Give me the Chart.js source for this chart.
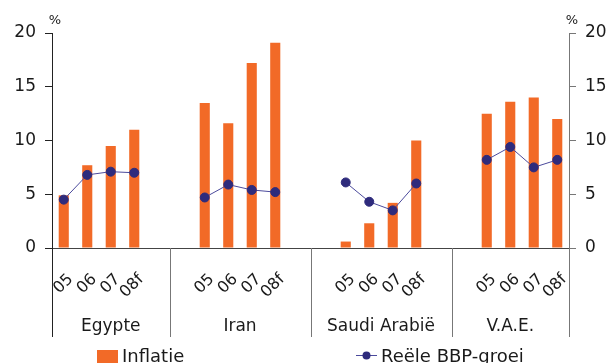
<!DOCTYPE html>
<html>
<head>
<meta charset="utf-8">
<script src="https://cdn.jsdelivr.net/npm/chart.js@4/dist/chart.umd.min.js"></script>
<style>
  html, body { margin: 0; padding: 0; background: #fff; }
  #wrap { width: 609px; height: 363px; }
</style>
</head>
<body>
<div id="wrap"><canvas id="groeiChart" width="609" height="363"></canvas></div>
<script>
// Landen en jaren
const landen = ['Egypte', 'Iran', 'Saudi Arabië', 'V.A.E.'];
const jaren = ['05', '06', '07', '08f'];

// Inflatie per land (%)
const inflatieEgypte = [4.9, 7.7, 9.5, 11.0];
const inflatieIran = [13.5, 11.6, 17.2, 19.1];
const inflatieSaudi = [0.6, 2.3, 4.2, 10.0];
const inflatieVAE = [12.5, 13.6, 14.0, 12.0];

// Reele BBP-groei per land (%)
const groeiEgypte = [4.5, 6.8, 7.1, 7.0];
const groeiIran = [4.7, 5.9, 5.4, 5.2];
const groeiSaudi = [6.1, 4.3, 3.5, 6.0];
const groeiVAE = [8.2, 9.4, 7.5, 8.2];

const yTicks = [0, 5, 10, 15, 20];

const inflatie = [inflatieEgypte, inflatieIran, inflatieSaudi, inflatieVAE];
const groei = [groeiEgypte, groeiIran, groeiSaudi, groeiVAE];

// twee lege kolommen tussen de landen
const LEEG = 2;
let labels = [], barData = [], lijnData = [], groepen = [];
landen.forEach((land, i) => {
    const start = labels.length;
    jaren.forEach((jaar, j) => {
        labels.push(jaar);
        barData.push(inflatie[i][j]);
        lijnData.push(groei[i][j]);
    });
    groepen.push({ naam: land, start: start, eind: labels.length - 1 });
    if (i < landen.length - 1) {
        for (let k = 0; k < LEEG; k++) {
            labels.push('');
            barData.push(null);
            lijnData.push(null);
        }
    }
});

const ORANJE = '#f26a27';
const BLAUW = '#2e2b7c';
const TEKST = '#1a1a1a';
const FONT = 'DejaVu Sans';
const ONDER = 337; // onderkant van de scheidingslijnen

// landnamen, scheidingslijnen, % en legenda
const extraPlugin = {
    id: 'extra',
    afterDraw(chart) {
        const ctx = chart.ctx;
        const x = chart.scales.x;
        const area = chart.chartArea;
        ctx.save();

        // grenzen van de landvakken: de assen plus het midden tussen twee landen
        const grenzen = [area.left];
        for (let g = 0; g < groepen.length - 1; g++) {
            const a = x.getPixelForValue(groepen[g].eind + LEEG / 2);
            const b = x.getPixelForValue(groepen[g].eind + LEEG / 2 + 1);
            grenzen.push((a + b) / 2);
        }
        grenzen.push(area.right);

        // verticale lijnen onder de as
        ctx.lineWidth = 1;
        ctx.strokeStyle = '#222';
        ctx.beginPath();
        ctx.moveTo(Math.round(area.left) + 0.5, area.bottom);
        ctx.lineTo(Math.round(area.left) + 0.5, ONDER);
        ctx.stroke();
        ctx.strokeStyle = '#777';
        ctx.beginPath();
        for (let g = 1; g < grenzen.length; g++) {
            const px = Math.round(grenzen[g]) + 0.5;
            ctx.moveTo(px, area.bottom);
            ctx.lineTo(px, ONDER);
        }
        ctx.stroke();

        // landnamen, midden in hun vak
        ctx.fillStyle = TEKST;
        ctx.font = '17px ' + FONT;
        ctx.textAlign = 'center';
        ctx.textBaseline = 'middle';
        groepen.forEach((g, i) => {
            ctx.fillText(g.naam, (grenzen[i] + grenzen[i + 1]) / 2, 327);
        });

        // procent tekens boven de assen
        ctx.font = '13px ' + FONT;
        ctx.fillText('%', area.left + 3, 21);
        ctx.fillText('%', area.right + 3, 21);

        // legenda
        ctx.font = '18px ' + FONT;
        ctx.textAlign = 'left';
        ctx.textBaseline = 'alphabetic';
        ctx.fillStyle = ORANJE;
        ctx.fillRect(97, 350, 21, 13);
        ctx.fillStyle = TEKST;
        ctx.fillText('Inflatie', 122, 362);

        ctx.strokeStyle = '#4b4a9c';
        ctx.lineWidth = 1;
        ctx.beginPath();
        ctx.moveTo(356, 355.5);
        ctx.lineTo(377, 355.5);
        ctx.stroke();
        ctx.fillStyle = BLAUW;
        ctx.beginPath();
        ctx.arc(366.5, 355.5, 4, 0, Math.PI * 2);
        ctx.fill();
        ctx.fillStyle = TEKST;
        ctx.fillText('Reële BBP-groei', 381, 362);

        ctx.restore();
    }
};

function yAs(positie, kleur, breedte) {
    return {
        type: 'linear',
        position: positie,
        min: 0,
        max: 20,
        afterBuildTicks: scale => { scale.ticks = yTicks.map(v => ({ value: v })); },
        afterFit: scale => { scale.width = breedte; },
        grid: { drawOnChartArea: false, drawTicks: true, tickLength: 7, color: kleur },
        border: { color: kleur, width: 1 },
        ticks: {
            color: TEKST,
            font: { family: FONT, size: 17 },
            padding: 9
        }
    };
}

const ctx = document.getElementById('groeiChart').getContext('2d');
const groeiChart = new Chart(ctx, {
    data: {
        labels: labels,
        datasets: [
            {
                type: 'line',
                label: 'Reële BBP-groei',
                data: lijnData,
                borderColor: '#4b4a9c',
                borderWidth: 1,
                backgroundColor: BLAUW,
                pointBackgroundColor: BLAUW,
                pointBorderColor: BLAUW,
                pointRadius: 4.5,
                spanGaps: false,
                yAxisID: 'y',
                order: 0
            },
            {
                type: 'bar',
                label: 'Inflatie',
                data: barData,
                backgroundColor: ORANJE,
                barPercentage: 0.43,
                categoryPercentage: 1,
                yAxisID: 'y',
                order: 1
            }
        ]
    },
    options: {
        responsive: false,
        animation: false,
        layout: { padding: { top: 33, left: 0, right: 0, bottom: 0 } },
        plugins: {
            legend: { display: false },
            tooltip: { enabled: false }
        },
        scales: {
            x: {
                offset: true,
                afterFit: scale => { scale.height = 115; },
                grid: { display: false, drawTicks: false },
                border: { color: '#444', width: 1 },
                ticks: {
                    autoSkip: false,
                    minRotation: 45,
                    maxRotation: 45,
                    padding: 22,
                    labelOffset: 7,
                    color: TEKST,
                    font: { family: FONT, size: 16 }
                }
            },
            y: yAs('left', '#222', 52),
            y2: yAs('right', '#777', 40)
        }
    },
    plugins: [extraPlugin]
});
</script>
</body>
</html>
